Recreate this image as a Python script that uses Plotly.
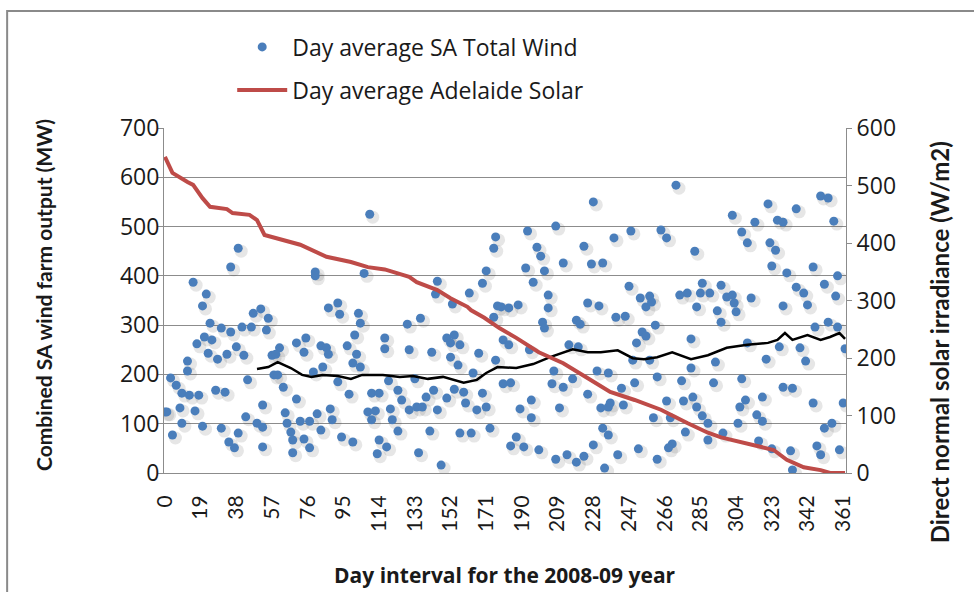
import plotly.graph_objects as go

# DAY AVERAGE SA TOTAL WIND (MW)
wind_day = [39, 35, 15, 22, 20, 24, 30, 35, 41, 46, 47, 51, 55, 54, 21, 25, 17, 23, 28, 33,
            38, 42, 12, 12, 3, 6, 9, 13, 18, 27, 32, 44, 8, 1, 16, 9, 20, 30, 39, 4,
            34, 37, 43, 49, 52, 52, 52, 57, 58, 0,
            109, 80, 80, 106, 87, 92, 93, 103, 104, 70, 75, 74, 83, 86, 87, 97, 102, 101, 100, 104,
            117, 117, 61, 59, 60, 63, 79, 84, 92, 70, 98, 110, 114, 64, 65, 72, 77, 81, 88, 89,
            108, 112, 110, 67, 83, 68, 74, 77, 94, 100, 68, 114, 113,
            176, 175, 171, 169, 145, 144, 162, 153, 177, 175, 129, 136, 150, 154, 152, 157, 130, 142, 152, 167,
            156, 164, 176, 119, 133, 124, 143, 139, 150, 154, 159, 169, 126, 120, 130, 134, 137, 145, 160, 166,
            171, 121, 124, 141, 157, 163, 173, 118, 135, 147,
            228, 208, 193, 198, 200, 223, 212, 227, 233, 192, 202, 196, 204, 179, 183, 188, 204, 225, 231, 201,
            202, 219, 221, 180, 183, 194, 215, 220, 207, 230, 236, 180, 184, 206, 212, 217, 225, 195, 189, 210,
            195, 232, 236, 233, 236, 187, 184, 191, 199, 228, 208, 214, 219, 223, 234,
            272, 248, 239, 264, 267, 282, 247, 253, 258, 256, 259, 274, 278, 286, 285, 290, 296, 283, 294, 296,
            240, 245, 261, 254, 256, 251, 280, 249, 258, 293, 280, 262, 275, 292, 250, 243, 237, 244, 267, 276,
            281, 283, 286, 260, 269, 289, 277, 289, 270, 268, 252, 241, 262,
            349, 353, 321, 336, 302, 314, 326, 329, 356, 307, 310, 322, 325, 323, 331, 345, 358, 299, 302, 303,
            304, 312, 336, 340, 351, 357, 342, 329, 346, 353, 358, 310, 327, 338, 362, 320, 341, 307, 329, 334,
            318, 309, 306, 345, 361, 315, 318, 305, 355, 351, 297, 316, 323, 333, 347, 349, 359, 334]
wind_mw = [456, 418, 387, 363, 339, 304, 294, 286, 296, 296, 324, 333, 314, 290, 276, 270, 262, 243, 231, 241,
           256, 239, 227, 207, 193, 178, 162, 158, 158, 168, 164, 189, 132, 124, 126, 101, 95, 91, 81, 77,
           63, 51, 114, 101, 93, 53, 138, 239, 199, 124,
           525, 408, 400, 405, 335, 345, 322, 324, 304, 264, 274, 245, 258, 254, 241, 258, 241, 280, 223, 215,
           274, 252, 254, 241, 199, 174, 205, 215, 185, 150, 160, 162, 162, 122, 101, 105, 105, 120, 130, 108,
           124, 126, 108, 83, 87, 67, 69, 51, 73, 63, 41, 67, 39,
           479, 456, 410, 385, 389, 363, 365, 343, 339, 316, 302, 314, 274, 280, 264, 260, 250, 245, 235, 243,
           219, 203, 229, 187, 191, 168, 168, 154, 152, 170, 164, 162, 148, 130, 128, 134, 134, 128, 142, 128,
           134, 108, 85, 85, 81, 81, 91, 53, 41, 16,
           550, 501, 491, 458, 440, 460, 426, 424, 426, 416, 410, 387, 361, 337, 335, 341, 335, 345, 339, 306,
           294, 310, 302, 270, 260, 250, 260, 256, 207, 207, 203, 181, 183, 181, 174, 191, 160, 148, 130, 132,
           112, 132, 134, 91, 77, 73, 55, 53, 47, 57, 28, 37, 22, 34, 10,
           584, 491, 477, 493, 477, 450, 379, 355, 359, 337, 347, 361, 365, 385, 365, 365, 381, 337, 329, 306,
           316, 318, 300, 286, 278, 264, 272, 229, 229, 225, 213, 195, 187, 183, 183, 172, 142, 138, 146, 146,
           154, 134, 116, 112, 112, 101, 83, 67, 59, 51, 49, 37, 28,
           562, 558, 546, 536, 523, 509, 513, 509, 511, 489, 467, 467, 452, 420, 406, 418, 400, 357, 361, 345,
           327, 355, 377, 365, 383, 359, 341, 339, 296, 306, 296, 264, 256, 254, 252, 231, 227, 191, 174, 172,
           154, 148, 134, 142, 142, 118, 105, 101, 101, 91, 81, 65, 49, 45, 55, 37, 47, 6]

# DAY AVERAGE ADELAIDE SOLAR (W/m2), RIGHT AXIS
solar_day = [0, 4, 12, 15, 20, 24, 33, 36, 45, 49, 53, 63, 72, 86, 99, 108, 117, 127, 130, 134,
             143, 145, 152, 154, 161, 163, 170, 178, 187, 199, 212, 224, 237, 250, 264, 278, 289, 296, 306, 317,
             324, 331, 340, 349, 354, 362]
solar_wm2 = [550, 522, 506, 501, 478, 463, 459, 452, 449, 440, 414, 405, 397, 376, 367, 358, 354, 344, 341, 332,
             322, 318, 304, 301, 289, 283, 270, 252, 235, 210, 191, 167, 141, 127, 110, 87, 70, 62, 54, 45,
             40, 23, 10, 5, 0, 0]

# MOVING AVERAGE OF THE WIND (BLACK LINE), LEFT AXIS
avg_day = [49, 55, 60, 67, 73, 78, 84, 92, 99, 105, 116, 125, 132, 140, 148, 159, 166, 171, 177, 187,
           196, 205, 217, 225, 232, 241, 249, 255, 262, 270, 280, 289, 299, 310, 321, 326, 330, 334, 342, 349,
           354, 359, 362]
avg_mw = [211, 215, 225, 213, 199, 195, 199, 197, 191, 199, 199, 195, 197, 191, 195, 183, 189, 203, 215, 213,
          221, 235, 251, 245, 245, 249, 233, 231, 235, 245, 231, 239, 254, 260, 264, 270, 284, 270, 280, 270,
          276, 284, 272]

x_ticks = list(range(0, 362, 19))

GRID = '#8c8c8c'
WIDE = 'Open Sans'   # TEXTO HORIZONTAL (A IMAGEM ORIGINAL ESTA ESTICADA NA HORIZONTAL)
NARROW = 'Lato'      # TEXTO GIRADO

fig = go.Figure()

# SOMBRA DOS PONTOS (EIXOS OCULTOS DESLOCADOS ALGUNS PIXELS)
fig.add_trace(go.Scatter(x=wind_day, y=wind_mw, mode='markers', xaxis='x', yaxis='y',
                         marker=dict(size=13, color='rgba(60,60,60,0.13)'),
                         showlegend=False, hoverinfo='skip'))

fig.add_trace(go.Scatter(x=wind_day, y=wind_mw, mode='markers', xaxis='x2', yaxis='y2',
                         name='Day average SA Total Wind', legend='legend',
                         marker=dict(size=9, color='#4a7ebb')))

fig.add_trace(go.Scatter(x=avg_day, y=avg_mw, mode='lines', xaxis='x2', yaxis='y2',
                         line=dict(color='black', width=2.5), showlegend=False))

fig.add_trace(go.Scatter(x=solar_day, y=solar_wm2, mode='lines', xaxis='x2', yaxis='y3',
                         name='Day average Adelaide Solar', legend='legend2',
                         line=dict(color='#be4b48', width=4)))

fig.update_layout(
    width=974, height=592,
    margin=dict(l=164, r=128, t=128, b=119),
    paper_bgcolor='white', plot_bgcolor='white',
    font=dict(family=WIDE, color='#1a1a1a'),
    xaxis=dict(range=[-0.5 - 1.6, 362.5 - 1.6], visible=False),
    yaxis=dict(range=[6, 706], visible=False),
    xaxis2=dict(range=[-0.5, 362.5], overlaying='x', anchor='y2',
                tickmode='array', tickvals=x_ticks, ticktext=[str(v) for v in x_ticks],
                tickangle=-90, tickfont=dict(family=NARROW, size=21), showgrid=False,
                showline=True, linecolor=GRID, linewidth=1, ticks='', ticklabelstandoff=13),
    yaxis2=dict(range=[0, 700], overlaying='y', side='left', anchor='x2',
                tickvals=list(range(0, 701, 100)), tickfont=dict(size=23),
                showgrid=True, gridcolor=GRID, gridwidth=1, ticklabelstandoff=-6,
                showline=True, linecolor=GRID, ticks='outside', ticklen=5, tickcolor=GRID),
    yaxis3=dict(range=[0, 600], overlaying='y', side='right', anchor='x2',
                tickvals=list(range(0, 601, 100)), tickfont=dict(size=23),
                showgrid=False, showline=True, linecolor=GRID,
                ticks='outside', ticklen=5, tickcolor=GRID),
    legend=dict(x=0.1, y=1.235, xanchor='left', yanchor='middle', itemwidth=50,
                font=dict(size=23), bgcolor='rgba(0,0,0,0)'),
    legend2=dict(x=0.1, y=1.11, xanchor='left', yanchor='middle', itemwidth=50,
                 font=dict(size=23), bgcolor='rgba(0,0,0,0)'),
    shapes=[dict(type='rect', xref='paper', yref='paper', x0=-0.230, x1=1.25, y0=-0.4, y1=1.339,
                 line=dict(color='#8a8a8a', width=2), fillcolor='rgba(0,0,0,0)', layer='below')],
    annotations=[
        dict(text='<b>Combined SA wind farm output (MW)</b>', xref='paper', yref='paper',
             x=-0.176, y=0.516, xanchor='center', yanchor='middle', textangle=-90,
             showarrow=False, font=dict(family=NARROW, size=21)),
        dict(text='<b>Direct normal solar irradiance (W/m2)</b>', xref='paper', yref='paper',
             x=1.137, y=0.38, xanchor='center', yanchor='middle', textangle=-90,
             showarrow=False, font=dict(family=NARROW, size=24)),
        dict(text='<b>Day interval for the 2008-09 year</b>', xref='paper', yref='paper',
             x=0.5, y=-0.2957, xanchor='center', yanchor='middle', showarrow=False,
             font=dict(size=21)),
    ],
)

fig.write_html('out.html', config={'displayModeBar': False},
               post_script="document.body.style.margin='0';")
